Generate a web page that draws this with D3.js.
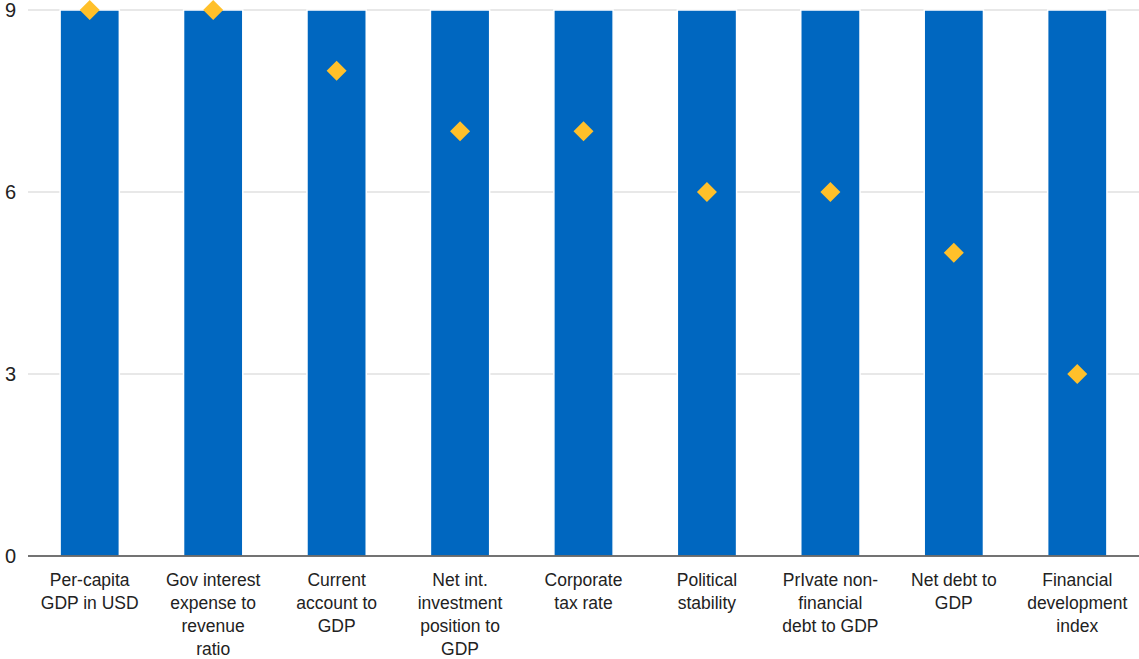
<!DOCTYPE html>
<html>
<head>
<meta charset="utf-8">
<script src="https://cdn.jsdelivr.net/npm/d3@7"></script>
<style>
  html, body { margin: 0; padding: 0; background: #fff; }
  svg { display: block; font-family: "Liberation Sans", Arial, sans-serif; }
</style>
</head>
<body>
<svg id="chart" width="1139" height="659"></svg>
<script>
// Indicator categories (label lines split for wrapping)
const categories = [
  ["Per-capita", "GDP in USD"],
  ["Gov interest", "expense to", "revenue", "ratio"],
  ["Current", "account to", "GDP"],
  ["Net int.", "investment", "position to", "GDP"],
  ["Corporate", "tax rate"],
  ["Political", "stability"],
  ["PrIvate non-", "financial", "debt to GDP"],
  ["Net debt to", "GDP"],
  ["Financial", "development", "index"]
];
// Full scale for each indicator
const maxValues = [9, 9, 9, 9, 9, 9, 9, 9, 9];
// Score for each indicator
const scores = [9, 9, 8, 7, 7, 6, 6, 5, 3];
const yTicks = [0, 3, 6, 9];

const svg = d3.select("#chart");
const keys = categories.map((c, i) => i);

const x = d3.scaleBand().domain(keys).range([28, 1139]).paddingInner(0.52).paddingOuter(0.26);
const y = d3.scaleLinear().domain([0, 9]).range([556, 10]);

// Gridlines
svg.append("g").selectAll("line")
  .data(yTicks.filter(t => t !== 0))
  .join("line")
  .attr("x1", 28).attr("x2", 1139)
  .attr("y1", d => y(d)).attr("y2", d => y(d))
  .attr("stroke", "#e0e0e0").attr("stroke-width", 1.5);

// Bars
svg.append("g").selectAll("rect")
  .data(maxValues)
  .join("rect")
  .attr("x", (d, i) => x(i))
  .attr("y", d => y(d))
  .attr("width", x.bandwidth())
  .attr("height", d => y(0) - y(d))
  .attr("fill", "#0067c0")
  .attr("stroke", "#ffffff")
  .attr("stroke-width", 1.5);

// Baseline
svg.append("line")
  .attr("x1", 28).attr("x2", 1139)
  .attr("y1", y(0)).attr("y2", y(0))
  .attr("stroke", "#444").attr("stroke-width", 1.5);

// Y tick labels
svg.append("g").selectAll("text")
  .data(yTicks)
  .join("text")
  .attr("x", 16)
  .attr("y", d => y(d))
  .attr("dy", "0.35em")
  .attr("text-anchor", "end")
  .attr("font-size", 20)
  .attr("fill", "#222")
  .text(d => d);

// Category labels
const lbl = svg.append("g").selectAll("text")
  .data(categories)
  .join("text")
  .attr("x", (d, i) => x(i) + x.bandwidth() / 2)
  .attr("y", 586)
  .attr("text-anchor", "middle")
  .attr("font-size", 17.5)
  .attr("fill", "#222");
lbl.selectAll("tspan")
  .data(d => d)
  .join("tspan")
  .attr("x", function () { return d3.select(this.parentNode).attr("x"); })
  .attr("dy", (d, j) => j === 0 ? 0 : 23)
  .text(d => d);

// Score markers
const diamond = d3.symbol().type(d3.symbolSquare).size(200);
svg.append("g").selectAll("path")
  .data(scores)
  .join("path")
  .attr("d", diamond)
  .attr("transform", (d, i) => `translate(${x(i) + x.bandwidth() / 2},${y(d)}) rotate(45)`)
  .attr("fill", "#ffc02a");
</script>
</body>
</html>
